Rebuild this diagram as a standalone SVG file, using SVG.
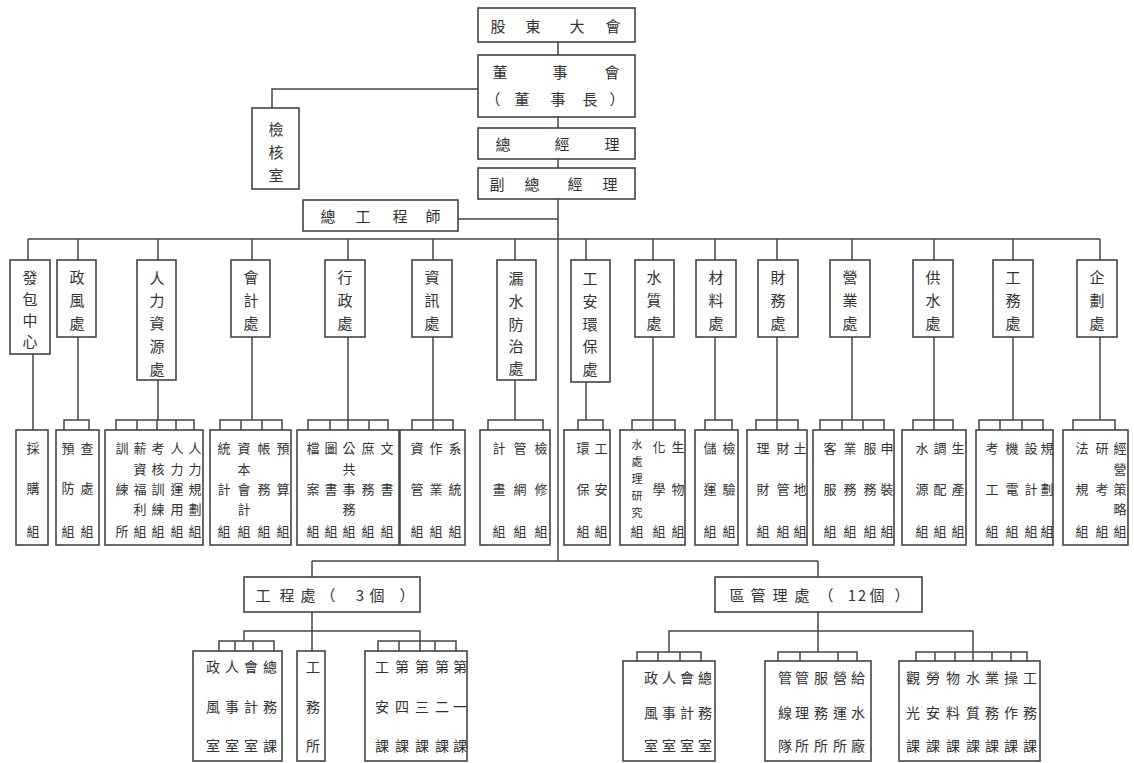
<svg xmlns="http://www.w3.org/2000/svg" width="1134" height="763" viewBox="0 0 1134 763">
<style>
rect{fill:#fff;stroke:#444;stroke-width:1.6}
.ln{fill:none;stroke:#444;stroke-width:1.5}
text{font-family:"Noto Sans CJK TC","Noto Sans CJK SC",sans-serif;fill:#333;text-anchor:middle;dominant-baseline:central}
.h{font-size:15px}
.v{font-size:15px}
.s{font-size:13px}
.x{font-size:11px}
.m{font-size:14px}
</style>
<rect x="0" y="0" width="1134" height="763" style="fill:#fff;stroke:none"/>
<g id="connectors">
<path class="ln" d="M558 42V55M558 117V128M558 159V168M558 199V561M478 89H272V108M458 219H558M28 239H1100"/>
<path class="ln" d="M28 239V260M78 239V260M158 239V260M252 239V260M348 239V260M433 239V260M515 239V260M586 239V260M653 239V260M715 239V260M777 239V260M852 239V260M934 239V260M1013 239V260M1100 239V260"/>
<path class="ln" d="M33 354V430M78 337V420M158 380V420M252 337V420M348 337V420M433 337V420M515 380V420M586 382V420M653 337V420M715 337V420M777 337V420M852 337V420M934 337V420M1013 337V420M1100 337V420"/>
<path class="ln" d="M64 430V420H89V430M116 430V420H194V430M137 420V430M157 420V430M176 420V430M220 430V420H282V430M241 420V430M262 420V430M308 430V420H388V430M330 420V430M348 420V430M369 420V430M412 430V420H453V430M433 420V430M488 430V420H543V430M578 430V420H603V430M632 430V420H675V430M653 420V430M705 430V420H732V430M756 430V420H798V430M777 420V430M820 430V420H884V430M842 420V430M863 420V430M913 430V420H953V430M934 420V430M979 430V420H1043V430M1000 420V430M1022 420V430M1073 430V420H1115V430"/>
<path class="ln" d="M312 561H818M312 561V577M818 561V577M312 612V651M244 641V631H420V641M219 651V641H274V651M235 641V651M253 641V651M378 651V641H456V651M399 641V651M420 641V651M435 641V651"/>
<path class="ln" d="M818 612V652M669 652V631H973V652M637 661V652H701V661M658 652V661M680 652V661M778 661V652H857V661M800 652V661M838 652V661M916 661V652H1027V661M935 652V661M955 652V661M973 652V661M992 652V661M1011 652V661"/>
</g>
<g id="n-gudong"><rect x="478" y="8" width="157" height="34"/><text class="h" x="498 533 577 613" y="25">股東大會</text></g>
<g id="n-dongshihui"><rect x="478" y="55" width="157" height="62"/><text class="h" x="500 560 612" y="71">董事會</text><text class="h" x="493 522 558 590 617" y="98">（董事長）</text></g>
<g id="n-zongjingli"><rect x="478" y="128" width="157" height="31"/><text class="h" x="503 562 612" y="143.5">總經理</text></g>
<g id="n-fuzongjingli"><rect x="478" y="168" width="157" height="31"/><text class="h" x="497 532 575 610" y="183.5">副總經理</text></g>
<g id="n-jianhe"><rect x="252" y="108" width="47" height="81"/><text class="v" x="276" y="128">檢</text><text class="v" x="276" y="151">核</text><text class="v" x="276" y="174">室</text></g>
<g id="n-zonggong"><rect x="303" y="200" width="155" height="31"/><text class="h" x="328 363 400 433" y="215.5">總工程師</text></g>

<g id="n-fabao"><rect x="10" y="260" width="40" height="94"/><text class="v" x="30" y="276">發</text><text class="v" x="30" y="298">包</text><text class="v" x="30" y="319">中</text><text class="v" x="30" y="340">心</text></g>
<g id="n-zhengfeng"><rect x="57" y="260" width="39" height="77"/><text class="v" x="77" y="276">政</text><text class="v" x="77" y="299">風</text><text class="v" x="77" y="322">處</text></g>
<g id="n-renli"><rect x="137" y="260" width="39" height="120"/><text class="v" x="157" y="277">人</text><text class="v" x="157" y="299">力</text><text class="v" x="157" y="322">資</text><text class="v" x="157" y="345">源</text><text class="v" x="157" y="368">處</text></g>
<g id="n-kuaiji"><rect x="231" y="260" width="39" height="77"/><text class="v" x="251" y="276">會</text><text class="v" x="251" y="299">計</text><text class="v" x="251" y="322">處</text></g>
<g id="n-xingzheng"><rect x="325" y="260" width="40" height="77"/><text class="v" x="345" y="276">行</text><text class="v" x="345" y="299">政</text><text class="v" x="345" y="322">處</text></g>
<g id="n-zixun"><rect x="412" y="260" width="40" height="77"/><text class="v" x="432" y="276">資</text><text class="v" x="432" y="299">訊</text><text class="v" x="432" y="322">處</text></g>
<g id="n-loushui"><rect x="497" y="260" width="39" height="120"/><text class="v" x="516" y="277">漏</text><text class="v" x="516" y="300">水</text><text class="v" x="516" y="323">防</text><text class="v" x="516" y="345">治</text><text class="v" x="516" y="367">處</text></g>
<g id="n-gongan"><rect x="571" y="260" width="39" height="122"/><text class="v" x="590" y="277">工</text><text class="v" x="590" y="300">安</text><text class="v" x="590" y="323">環</text><text class="v" x="590" y="345">保</text><text class="v" x="590" y="368">處</text></g>
<g id="n-shuizhi"><rect x="635" y="260" width="39" height="77"/><text class="v" x="654" y="276">水</text><text class="v" x="654" y="299">質</text><text class="v" x="654" y="322">處</text></g>
<g id="n-cailiao"><rect x="696" y="260" width="40" height="77"/><text class="v" x="716" y="276">材</text><text class="v" x="716" y="299">料</text><text class="v" x="716" y="322">處</text></g>
<g id="n-caiwu"><rect x="758" y="260" width="40" height="77"/><text class="v" x="778" y="276">財</text><text class="v" x="778" y="299">務</text><text class="v" x="778" y="322">處</text></g>
<g id="n-yingye"><rect x="830" y="260" width="40" height="77"/><text class="v" x="850" y="276">營</text><text class="v" x="850" y="299">業</text><text class="v" x="850" y="322">處</text></g>
<g id="n-gongshui"><rect x="913" y="260" width="40" height="77"/><text class="v" x="933" y="276">供</text><text class="v" x="933" y="299">水</text><text class="v" x="933" y="322">處</text></g>
<g id="n-gongwu"><rect x="993" y="260" width="40" height="77"/><text class="v" x="1013" y="276">工</text><text class="v" x="1013" y="299">務</text><text class="v" x="1013" y="322">處</text></g>
<g id="n-qihua"><rect x="1077" y="260" width="40" height="77"/><text class="v" x="1097" y="276">企</text><text class="v" x="1097" y="299">劃</text><text class="v" x="1097" y="322">處</text></g>

<g id="b-fabao"><rect x="16" y="430" width="32" height="115"/><text class="s" x="33" y="447">採</text><text class="s" x="33" y="487">購</text><text class="s" x="33" y="530">組</text></g>
<g id="b-zhengfeng"><rect x="56" y="430" width="43" height="115"/><text class="s" x="68 87" y="447">預查</text><text class="s" x="68 87" y="487">防處</text><text class="s" x="68 87" y="530">組組</text></g>
<g id="b-renli"><rect x="105" y="430" width="98" height="115"/><text class="s" x="122 140 158 177 195" y="447">訓薪考人人</text><text class="s" x="140 158 177 195" y="468">資核力力</text><text class="s" x="122 140 158 177 195" y="488">練福訓運規</text><text class="s" x="140 158 177 195" y="508">利練用劃</text><text class="s" x="122 140 158 177 195" y="530">所組組組組</text></g>
<g id="b-kuaiji"><rect x="210" y="430" width="81" height="115"/><text class="s" x="224 244 264 283" y="447">統資帳預</text><text class="s" x="244" y="468">本</text><text class="s" x="224 244 264 283" y="488">計會務算</text><text class="s" x="244" y="508">計</text><text class="s" x="224 244 264 283" y="530">組組組組</text></g>
<g id="b-xingzheng"><rect x="297" y="430" width="102" height="115"/><text class="s" x="313 331 349 368 387" y="447">檔圖公庶文</text><text class="s" x="349" y="468">共</text><text class="s" x="313 331 349 368 387" y="488">案書事務書</text><text class="s" x="349" y="508">務</text><text class="s" x="313 331 349 368 387" y="530">組組組組組</text></g>
<g id="b-zixun"><rect x="400" y="430" width="65" height="115"/><text class="s" x="417 436 455" y="447">資作系</text><text class="s" x="417 436 455" y="488">管業統</text><text class="s" x="417 436 455" y="530">組組組</text></g>
<g id="b-loushui"><rect x="480" y="430" width="70" height="115"/><text class="s" x="499 520 541" y="447">計管檢</text><text class="s" x="499 520 541" y="488">畫網修</text><text class="s" x="499 520 541" y="530">組組組</text></g>
<g id="b-gongan"><rect x="564" y="430" width="46" height="115"/><text class="s" x="583 601" y="447">環工</text><text class="s" x="583 601" y="488">保安</text><text class="s" x="583 601" y="530">組組</text></g>
<g id="b-shuizhi"><rect x="620" y="430" width="65" height="115"/><text class="s" x="659 678" y="446">化生</text><text class="x" x="637" y="444">水</text><text class="x" x="637" y="461">處</text><text class="x" x="637" y="478">理</text><text class="s" x="659 678" y="488">學物</text><text class="x" x="637" y="495">研</text><text class="x" x="637" y="512">究</text><text class="s" x="637 659 678" y="530">組組組</text></g>
<g id="b-cailiao"><rect x="695" y="430" width="43" height="115"/><text class="s" x="710 729" y="447">儲檢</text><text class="s" x="710 729" y="488">運驗</text><text class="s" x="710 729" y="530">組組</text></g>
<g id="b-caiwu"><rect x="747" y="430" width="60" height="115"/><text class="s" x="763 783 800" y="447">理財土</text><text class="s" x="763 783 800" y="488">財管地</text><text class="s" x="763 783 800" y="530">組組組</text></g>
<g id="b-yingye"><rect x="813" y="430" width="81" height="115"/><text class="s" x="830 850 870 887" y="447">客業服申</text><text class="s" x="830 850 870 887" y="488">服務務裝</text><text class="s" x="830 850 870 887" y="530">組組組組</text></g>
<g id="b-gongshui"><rect x="902" y="430" width="64" height="115"/><text class="s" x="922 940 958" y="447">水調生</text><text class="s" x="922 940 958" y="488">源配產</text><text class="s" x="922 940 958" y="530">組組組</text></g>
<g id="b-gongwu"><rect x="976" y="430" width="77" height="115"/><text class="s" x="992 1012 1031 1047" y="447">考機設規</text><text class="s" x="992 1012 1031 1047" y="488">工電計劃</text><text class="s" x="992 1012 1031 1047" y="530">組組組組</text></g>
<g id="b-qihua"><rect x="1063" y="430" width="65" height="115"/><text class="s" x="1082 1102 1120" y="447">法研經</text><text class="s" x="1120" y="468">營</text><text class="s" x="1082 1102 1120" y="488">規考策</text><text class="s" x="1120" y="508">略</text><text class="s" x="1082 1102 1120" y="530">組組組</text></g>

<g id="n-gongcheng"><rect x="244" y="577" width="176" height="35"/><text class="h" x="263 287 308 328 345 360 377 392 407" y="594.5">工程處（ 3個 ）</text></g>
<g id="n-quguanli"><rect x="715" y="577" width="207" height="35"/><text class="h" x="737 758 780 802 826 840 852 862 877 890 902" y="594.5">區管理處（ 12個 ）</text></g>

<g id="c-gc1"><rect x="193" y="651" width="89" height="110"/><text class="m" x="213 232 251 270" y="666">政人會總</text><text class="m" x="213 232 251 270" y="706">風事計務</text><text class="m" x="213 232 251 270" y="745">室室室課</text></g>
<g id="c-gc2"><rect x="297" y="651" width="28" height="110"/><text class="m" x="313" y="666">工</text><text class="m" x="313" y="706">務</text><text class="m" x="313" y="745">所</text></g>
<g id="c-gc3"><rect x="365" y="651" width="102" height="110"/><text class="m" x="382 402 422 442 460" y="666">工第第第第</text><text class="m" x="382 402 422 442 460" y="706">安四三二一</text><text class="m" x="382 402 422 442 460" y="745">課課課課課</text></g>
<g id="c-qg1"><rect x="623" y="661" width="92" height="100"/><text class="m" x="651 669 687 705" y="677">政人會總</text><text class="m" x="651 669 687 705" y="712">風事計務</text><text class="m" x="651 669 687 705" y="745">室室室室</text></g>
<g id="c-qg2"><rect x="765" y="661" width="106" height="100"/><text class="m" x="785 802 821 840 858" y="677">管管服營給</text><text class="m" x="785 802 821 840 858" y="712">線理務運水</text><text class="m" x="785 802 821 840 858" y="745">隊所所所廠</text></g>
<g id="c-qg3"><rect x="899" y="661" width="141" height="100"/><text class="m" x="913 933 953 973 992 1011 1030" y="677">觀勞物水業操工</text><text class="m" x="913 933 953 973 992 1011 1030" y="712">光安料質務作務</text><text class="m" x="913 933 953 973 992 1011 1030" y="745">課課課課課課課</text></g>
</svg>
